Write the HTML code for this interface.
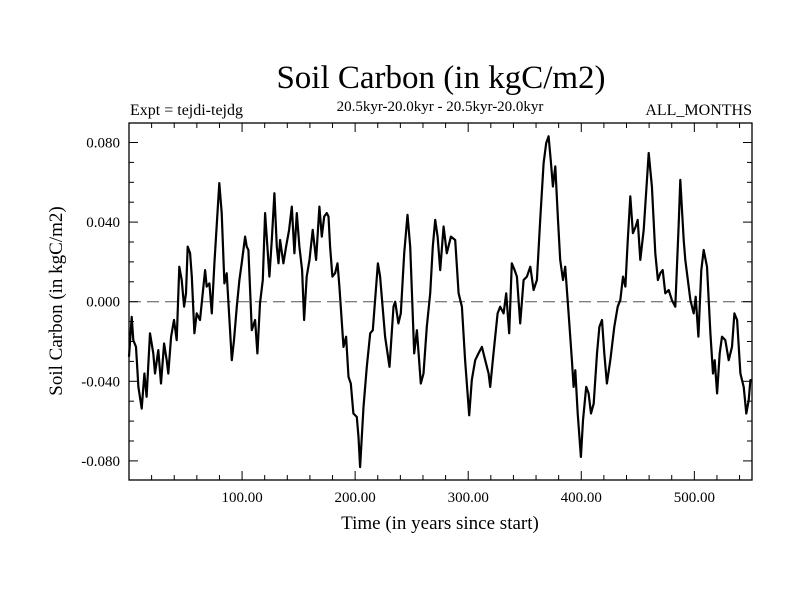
<!DOCTYPE html>
<html><head><meta charset="utf-8"><style>
body{margin:0;background:#fff;width:800px;height:600px;overflow:hidden}
svg text{font-family:"Liberation Serif",serif;fill:#000}
</style></head><body>
<svg id="chart" width="800" height="600" viewBox="0 0 800 600">
<text x="441" y="88" font-size="33" text-anchor="middle">Soil Carbon (in kgC/m2)</text>
<text x="130" y="115" font-size="16">Expt = tejdi-tejdg</text>
<text x="440" y="111" font-size="15" text-anchor="middle">20.5kyr-20.0kyr - 20.5kyr-20.0kyr</text>
<text x="752" y="115" font-size="16" text-anchor="end">ALL_MONTHS</text>
<text transform="translate(62,301) rotate(-90)" font-size="19" text-anchor="middle">Soil Carbon (in kgC/m2)</text>
<text x="440" y="529" font-size="19" text-anchor="middle">Time (in years since start)</text>
<g id="axes"></g>
<g id="series"></g>
</svg>
<script>
const categories=[0,2.4,3.8,6.2,8.3,11.2,13.6,15.6,18.6,21.5,23.0,25.9,28.3,31.0,33.3,34.8,37.2,39.8,42.2,44.5,46.6,48.7,50.4,51.9,54.0,55.5,57.8,59.9,62.8,67.3,68.7,71.1,73.2,75.5,79.9,82.0,84.4,86.4,90.9,92.9,95.3,97.6,99.7,102.7,104.1,105.6,108.6,111.5,113.6,115.9,118.3,120.4,121.8,124.2,126.3,128.6,130.7,132.2,133.6,136.6,138.9,141.6,144.0,146.3,148.4,150.7,153.1,154.9,157.2,159.6,162.5,165.5,168.4,170.5,172.6,174.9,176.4,177.9,179.9,182.3,184.4,186.1,189.7,192.0,194.1,196.2,198.5,201.5,203.0,204.4,207.4,210.3,213.3,215.6,220.1,222.1,226.5,230.4,233.9,235.4,238.3,240.4,243.4,246.3,248.7,252.2,254.6,258.1,260.5,263.4,266.4,268.7,270.8,272.9,275.2,278.2,281.1,284.7,288.5,291.5,294.4,297.3,300.9,303.2,306.2,309.1,312.1,315.0,318.0,319.5,322.4,326.0,328.3,331.3,333.6,336.3,338.6,341.0,343.1,346.0,349.0,351.9,354.9,357.8,360.8,363.7,366.7,369.0,371.1,373.2,374.9,377.0,379.4,381.4,383.8,385.8,388.8,391.7,393.2,394.7,396.8,399.7,401.5,404.4,406.5,408.6,411.0,413.9,416.0,418.3,420.4,422.7,425.7,429.2,432.2,434.5,436.9,439.0,441.0,443.4,445.7,448.1,449.9,452.2,455.2,459.6,462.5,465.5,467.8,469.9,472.0,474.3,477.3,480.2,483.2,486.1,487.6,490.6,492.0,496.5,499.4,501.2,503.6,506.2,508.3,511.2,514.2,516.5,518.0,520.1,522.4,524.5,527.4,530.4,533.3,535.4,537.8,540.7,543.7,546.0,548.1,549.6,551.0];
const values=[-0.0277,-0.0076,-0.0193,-0.0227,-0.0428,-0.0537,-0.0361,-0.0478,-0.0159,-0.0260,-0.0361,-0.0243,-0.0411,-0.0210,-0.0294,-0.0361,-0.0176,-0.0092,-0.0193,0.0176,0.0109,-0.0025,0.0042,0.0277,0.0243,0.0126,-0.0159,-0.0059,-0.0092,0.0159,0.0076,0.0092,-0.0059,0.0193,0.0596,0.0445,0.0092,0.0143,-0.0294,-0.0193,-0.0025,0.0109,0.0193,0.0327,0.0277,0.0260,-0.0143,-0.0092,-0.0260,-0.0008,0.0109,0.0445,0.0327,0.0126,0.0310,0.0545,0.0277,0.0193,0.0310,0.0193,0.0277,0.0361,0.0478,0.0243,0.0445,0.0277,0.0159,-0.0092,0.0126,0.0210,0.0361,0.0210,0.0478,0.0327,0.0428,0.0445,0.0428,0.0277,0.0126,0.0143,0.0193,0.0076,-0.0227,-0.0176,-0.0378,-0.0411,-0.0562,-0.0579,-0.0680,-0.0831,-0.0529,-0.0327,-0.0159,-0.0143,0.0193,0.0126,-0.0176,-0.0327,-0.0025,0.0,-0.0109,-0.0059,0.0243,0.0436,0.0277,-0.0260,-0.0143,-0.0411,-0.0361,-0.0126,0.0042,0.0277,0.0411,0.0327,0.0159,0.0378,0.0243,0.0327,0.0310,0.0042,-0.0025,-0.0294,-0.0571,-0.0394,-0.0294,-0.0260,-0.0227,-0.0294,-0.0361,-0.0428,-0.0260,-0.0059,-0.0025,-0.0059,0.0042,-0.0159,0.0193,0.0159,0.0126,-0.0109,0.0109,0.0126,0.0176,0.0059,0.0109,0.0411,0.0696,0.0797,0.0831,0.0696,0.0579,0.0680,0.0411,0.0210,0.0109,0.0176,-0.0059,-0.0294,-0.0428,-0.0344,-0.0562,-0.0780,-0.0596,-0.0428,-0.0461,-0.0562,-0.0512,-0.0260,-0.0126,-0.0092,-0.0260,-0.0411,-0.0294,-0.0126,-0.0025,0.0008,0.0126,0.0076,0.0294,0.0529,0.0344,0.0378,0.0411,0.0210,0.0361,0.0747,0.0579,0.0243,0.0109,0.0143,0.0159,0.0042,0.0059,0.0008,-0.0025,0.0378,0.0612,0.0310,0.0210,0.0008,-0.0059,0.0025,-0.0176,0.0159,0.0260,0.0176,-0.0159,-0.0361,-0.0294,-0.0461,-0.0260,-0.0176,-0.0193,-0.0294,-0.0227,-0.0059,-0.0092,-0.0361,-0.0428,-0.0562,-0.0495,-0.0394,-0.0394];
const yTickValues=[0.08,0.04,0.0,-0.04,-0.08];
const yTickLabels=["0.080","0.040","0.000","-0.040","-0.080"];
const xTickValues=[100,200,300,400,500];
const xTickLabels=["100.00","200.00","300.00","400.00","500.00"];
const xDomain=[0,551], yDomain=[-0.0896,0.0898];
const L=129,R=752,T=123,B=480;
const NS="http://www.w3.org/2000/svg";
function xs(t){return L+(t-xDomain[0])/(xDomain[1]-xDomain[0])*(R-L);}
function ys(v){return B-(v-yDomain[0])/(yDomain[1]-yDomain[0])*(B-T);}
function mk(tag,attrs,parent){const e=document.createElementNS(NS,tag);for(const k in attrs)e.setAttribute(k,attrs[k]);parent.appendChild(e);return e;}
const ax=document.getElementById('axes');
const frame=mk('rect',{x:L,y:T,width:R-L,height:B-T,fill:'none',stroke:'#000','stroke-width':1.3},ax);


const zl=mk('line',{x1:L,x2:R,y1:ys(0),y2:ys(0),stroke:'#555','stroke-width':1,'stroke-dasharray':'12,6'},ax);


for(let k=-8;k<=8;k++){const v=k/100;const y=ys(v);const len=(k%4===0)?9:5;
 const a=mk('line',{x1:L,x2:L+len,y1:y,y2:y,stroke:'#000'},ax);
 
 
 const b=mk('line',{x1:R,x2:R-len,y1:y,y2:y,stroke:'#000'},ax);
 
 }
for(let t=20;t<=540;t+=20){const x=xs(t);const len=(t%100===0)?9:5;
 const a=mk('line',{x1:x,x2:x,y1:B,y2:B-len,stroke:'#000'},ax);
 
 
 const b=mk('line',{x1:x,x2:x,y1:T,y2:T+len,stroke:'#000'},ax);
 
 }
yTickValues.forEach((v,i)=>{const t=mk('text',{x:120,y:ys(v)+5,'font-size':15,'text-anchor':'end'},ax);t.textContent=yTickLabels[i];
 
 });
xTickValues.forEach((v,i)=>{const t=mk('text',{x:xs(v),y:B+22,'font-size':15,'text-anchor':'middle'},ax);t.textContent=xTickLabels[i];
 
 });
const pts=categories.map((t,i)=>xs(t).toFixed(1)+','+ys(values[i]).toFixed(1)).join(' ');
const line=mk('polyline',{points:pts,fill:'none',stroke:'#000','stroke-width':2.2,'stroke-linejoin':'round'},document.getElementById('series'));


</script>
</body></html>
